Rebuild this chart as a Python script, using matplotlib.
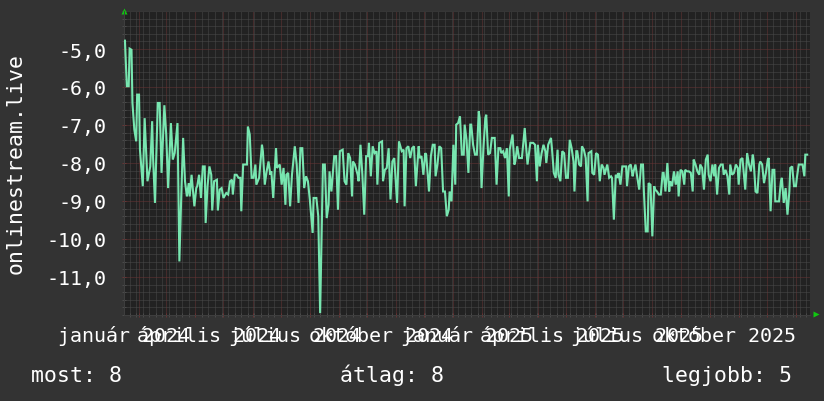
import numpy as np
import matplotlib
matplotlib.use("Agg")
import matplotlib.pyplot as plt
import matplotlib.dates as mdates
from matplotlib.ticker import MultipleLocator

# rrdtool style graph, 2 years of daily-ish samples
start = np.datetime64("2024-01-16")
end = np.datetime64("2026-01-16")

days = [
    1, 3, 5, 6, 8, 9, 11, 13, 14, 16, 17, 20, 22, 25, 28, 30, 31, 33, 36, 38,
    40, 43, 45, 47, 50, 52, 54, 57, 59, 61, 63, 65, 67, 69, 70, 72, 75, 77, 78, 80,
    82, 84, 86, 87, 89, 91, 93, 94, 96, 99, 100, 102, 104, 106, 109, 111, 113, 115, 116, 118,
    120, 122, 124, 125, 127, 131, 132, 134, 136, 138, 140, 141, 144, 147, 148, 150, 152, 154, 156, 157,
    159, 162, 163, 166, 168, 170, 172, 173, 175, 177, 179,
    182, 184, 186, 188, 190, 192, 194, 196, 198, 201, 202, 205, 207, 209, 211, 212, 214, 216, 218, 219,
    221, 224, 226, 228, 230, 233, 235, 237, 239, 241, 243, 244, 246, 249, 250, 252, 254, 256, 258, 260,
    261, 263, 265, 267, 269, 270, 272, 275, 276, 278, 280, 282, 284, 286, 288, 291, 293, 296, 298, 299,
    301, 303, 305, 307, 309, 311, 314, 315, 317, 319, 321, 322, 325, 327, 329, 331, 332, 334, 336, 338,
    340, 342, 344, 346, 347, 349, 351, 353, 354, 356, 358, 360, 362, 363, 365, 367, 369, 370, 372, 374,
    376, 378, 379, 381, 383, 385, 386, 388, 390, 392, 394, 395, 397, 399, 401, 402, 404, 406, 408, 410,
    411, 414, 416, 417, 419, 421, 423, 424, 427, 428, 430, 432, 433, 436, 438, 440, 441,
    443, 445, 447, 449, 450, 452, 455, 456, 458, 460, 462, 463, 465, 467, 469, 471, 473, 475, 477, 479,
    480, 482, 483, 485, 487, 488, 490, 492, 494, 495, 498, 499, 501, 503, 505, 507, 509, 511, 512, 515,
    517, 519, 520, 522, 524, 526, 527, 529, 531, 533, 535, 536, 538, 540, 542, 543, 545, 547, 549, 551,
    553, 554, 556, 558, 559, 561, 563, 565, 566, 568, 570, 572, 574, 575, 577, 579, 581, 582, 584, 586,
    588, 590, 591, 593, 595, 597, 598, 600, 602, 604, 606, 607, 609, 611, 613, 614, 616, 618, 620, 622,
    623, 625, 627, 629, 630, 632, 634, 636, 638, 639, 641, 643, 645, 646, 648, 650, 652, 654, 655, 657,
    659, 661, 662, 664, 666, 668, 670, 671, 673, 675, 677, 678, 680, 682, 684, 686, 687, 689, 691, 693,
    694, 696, 698, 700, 701, 703, 705, 707, 709, 710, 712, 714, 716, 717, 719, 721, 723, 725, 726, 728,
]

values = [
    -4.78, -5.98, -5.98, -4.99, -5.02, -6.42, -7.12, -7.43, -6.20, -6.20, -7.65, -8.61, -6.82, -8.48, -8.09, -6.90, -7.87, -9.05, -6.42, -6.42,
    -8.26, -6.48, -7.25, -8.66, -6.95, -7.91, -7.74, -6.95, -10.59, -8.88, -7.34, -8.48, -8.88, -8.53, -8.88, -8.31, -9.14, -8.66, -8.61, -8.31,
    -8.92, -8.09, -8.09, -9.58, -8.61, -8.09, -8.31, -9.25, -8.48, -8.44, -9.25, -8.70, -8.66, -8.92, -8.79, -8.83, -8.48, -8.44, -8.83, -8.31,
    -8.31, -8.39, -8.39, -9.27, -8.04, -8.04, -7.04, -7.25, -8.39, -8.39, -8.04, -8.57, -8.39, -7.52, -7.69, -8.57, -8.22, -7.96, -8.31, -8.22,
    -8.92, -7.61, -8.13, -8.04, -8.57, -8.13, -9.10, -8.31, -8.26, -9.14, -8.31,
    -7.56, -8.04, -9.05, -7.61, -7.61, -8.66, -8.35, -8.48, -8.96, -9.84, -8.92, -8.92, -9.40, -11.95, -9.27, -8.04, -8.04, -9.45, -9.10, -8.22,
    -8.75, -7.82, -7.82, -9.23, -7.69, -7.65, -8.48, -8.57, -7.74, -7.87, -8.88, -7.96, -8.04, -8.31, -8.48, -7.52, -8.31, -9.36, -7.82, -7.82,
    -7.47, -8.35, -7.56, -7.74, -7.69, -8.57, -7.47, -7.43, -8.48, -8.18, -8.13, -7.61, -8.96, -7.96, -7.87, -9.05, -7.43, -7.69, -7.65, -9.14,
    -7.61, -7.56, -7.87, -7.61, -7.56, -8.61, -7.56, -7.87, -7.82, -8.31, -7.74, -7.78, -8.75, -7.82, -7.52, -7.52, -8.35, -8.04, -7.56, -7.61,
    -8.75, -8.75, -9.40, -9.23, -8.75, -9.01, -7.52, -8.57, -6.99, -6.95, -6.77, -7.78, -7.78, -6.99, -7.39, -8.26, -6.99, -6.99, -7.52, -7.78,
    -7.78, -6.64, -6.82, -8.66, -7.61, -6.82, -6.73, -7.78, -7.74, -7.34, -7.34, -7.34, -8.57, -7.61, -7.61, -7.74, -7.69, -7.87, -7.61, -8.88,
    -7.65, -7.25, -8.04, -7.96, -7.56, -7.87, -7.87, -7.87, -7.08, -7.43, -8.04, -7.65, -7.47, -7.47, -7.52, -8.48, -7.52,
    -8.09, -7.74, -7.52, -7.69, -8.00, -7.52, -7.34, -7.61, -8.26, -8.39, -7.65, -8.31, -8.48, -7.69, -7.74, -8.39, -8.39, -7.39, -7.61, -7.96,
    -8.75, -7.69, -7.69, -8.04, -8.09, -7.56, -7.65, -7.87, -9.01, -7.74, -7.69, -8.26, -8.31, -7.74, -7.78, -8.48, -8.04, -8.13, -8.31, -8.04,
    -8.39, -8.35, -8.39, -9.49, -8.31, -8.39, -8.26, -8.57, -8.09, -8.09, -8.09, -8.61, -8.09, -8.04, -8.35, -8.22, -8.04, -8.39, -8.70, -8.04,
    -8.04, -8.75, -9.80, -9.80, -8.53, -8.57, -9.93, -8.61, -8.70, -8.75, -8.83, -8.83, -8.26, -8.26, -8.75, -8.00, -8.75, -8.48, -8.61, -8.22,
    -8.57, -8.22, -8.88, -8.18, -8.22, -8.57, -8.18, -8.22, -8.22, -8.26, -8.75, -7.91, -8.04, -8.22, -8.31, -8.04, -8.13, -8.70, -7.91, -7.78,
    -8.31, -8.48, -8.04, -8.35, -8.04, -8.83, -8.13, -8.04, -8.04, -8.31, -8.18, -8.35, -8.83, -8.04, -8.31, -8.26, -8.04, -8.13, -8.57, -7.91,
    -7.87, -8.44, -8.70, -7.74, -8.04, -8.22, -7.78, -7.96, -8.75, -8.79, -8.04, -7.96, -8.04, -8.53, -8.26, -7.91, -7.87, -9.27, -8.18, -8.18,
    -9.01, -9.01, -9.01, -8.48, -8.39, -9.05, -8.66, -9.36, -8.75, -8.13, -8.09, -8.61, -8.61, -8.39, -8.04, -8.04, -8.04, -8.35, -7.78, -7.78,
]

label_months = ["2024-01", "2024-04", "2024-07", "2024-10",
                "2025-01", "2025-04", "2025-07", "2025-10"]
label_texts = ["január 2024", "április 2024", "július 2024", "október 2024",
               "január 2025", "április 2025", "július 2025", "október 2025"]
y_ticks = [-11, -10, -9, -8, -7, -6, -5]

legend_items = ["most: 8", "átlag: 8", "legjobb: 5"]

BG = "#333333"
PLOT_BG = "#222222"
LINE = "#78e6b0"
GRID_MINOR = "#4a4a4a"
GRID_MAJOR = "#693434"
TXT = "#ffffff"
MONO = "DejaVu Sans Mono"

dates = start + np.array(days).astype("timedelta64[D]")

W, H = 824, 402
fig = plt.figure(figsize=(W / 100, H / 100), dpi=100, facecolor=BG)
ax = fig.add_axes([124 / W, (H - 316) / H, 686 / W, 304 / H])
ax.set_facecolor(PLOT_BG)

ax.plot(dates, values, color=LINE, lw=1.5, solid_joinstyle="miter", zorder=3)

ax.set_xlim(start, end)
ax.set_ylim(-12, -4)

# grid: weekly minor, monthly major
ax.xaxis.set_major_locator(mdates.MonthLocator())
ax.xaxis.set_minor_locator(mdates.WeekdayLocator(byweekday=mdates.MO))
ax.xaxis.set_major_formatter(plt.NullFormatter())
ax.yaxis.set_minor_locator(MultipleLocator(0.2))
ax.set_yticks(y_ticks)
ax.set_yticklabels([f"{v:.1f}".replace(".", ",") for v in y_ticks],
                   family=MONO, fontsize=14.4, color=TXT)

ax.grid(which="minor", color=GRID_MINOR, lw=0.72, ls=(0, (1, 1)), zorder=1)
ax.grid(which="major", color=GRID_MAJOR, lw=0.72, ls=(0, (1, 1)), zorder=2)
ax.set_axisbelow(True)

ax.tick_params(axis="x", which="major", length=3, width=0.72, color=GRID_MAJOR, direction="inout")
ax.tick_params(axis="x", which="minor", length=3, width=0.72, color=GRID_MINOR, direction="inout")
ax.tick_params(axis="y", which="major", length=3, width=0.72, color=GRID_MAJOR,
               direction="inout", pad=11)
ax.tick_params(axis="y", which="minor", length=3, width=0.72, color=GRID_MINOR, direction="inout")

for s in ["top", "right"]:
    ax.spines[s].set_visible(False)
for s in ["left", "bottom"]:
    ax.spines[s].set_color("#3e3e3e")
    ax.spines[s].set_linewidth(0.72)

# month labels centred half a month after the month start (rrdtool style)
for m, t in zip(label_months, label_texts):
    pos = np.datetime64(m + "-01") + np.timedelta64(15, "D")
    ax.annotate(t, (pos, 0), xycoords=ax.get_xaxis_transform(),
                xytext=(0, -26 * 0.72), textcoords="offset points",
                ha="center", va="baseline", family=MONO, fontsize=14.4,
                color=TXT, annotation_clip=False)

# little green arrows at axis ends
ax.plot([0], [1.0], marker="^", ms=5, color="#10c810", mec="none",
        transform=ax.transAxes, clip_on=False)
ax.plot([1.0085], [0.003], marker=">", ms=5, color="#10c810", mec="none",
        transform=ax.transAxes, clip_on=False)

fig.text(16 / W, (H - 164) / H, "onlinestream.live", rotation=90,
         ha="center", va="center", family=MONO, fontsize=15.5, color=TXT)

for x_px, t in zip([31, 340, 662], legend_items):
    fig.text(x_px / W, (H - 382) / H, t, ha="left", va="baseline",
             family=MONO, fontsize=15.5, color=TXT)

fig.savefig("out.png", dpi=100, facecolor=BG)
